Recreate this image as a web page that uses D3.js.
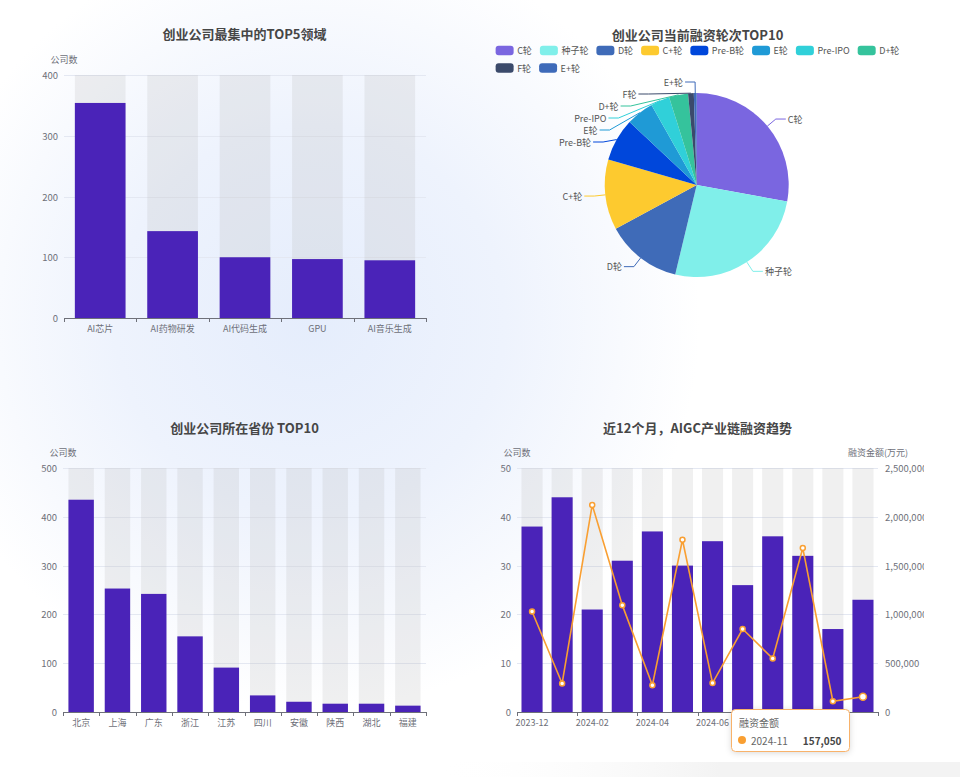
<!DOCTYPE html>
<html><head><meta charset="utf-8">
<script src="https://cdn.jsdelivr.net/npm/d3@7"></script>
<style>
body{margin:0;background:#fff;}
svg{display:block;font-family:"Noto Sans CJK SC","Noto Sans",sans-serif;}
</style>
</head><body>
<svg id="c" width="960" height="777"></svg>
<script>
// ---------- DATA ----------
const domainCats = ["AI芯片","AI药物研发","AI代码生成","GPU","AI音乐生成"];
const domainCounts = [354,143,100,97,95];
const domainTicks = [0,100,200,300,400];

const roundNames = ["C轮","种子轮","D轮","C+轮","Pre-B轮","E轮","Pre-IPO","D+轮","F轮","E+轮"];
const roundCounts = [167,155,80,74,45,29,20,20,6,3];
const roundColors = ["#7a66e0","#80efea","#3f6bb8","#fdca2f","#0047db","#1f9ad6","#30d0d9","#35c39c","#3b4a6b","#3e6ab9"];

const provinceCats = ["北京","上海","广东","浙江","江苏","四川","安徽","陕西","湖北","福建"];
const provinceCounts = [435,253,242,155,91,34,21,17,17,13];
const provinceTicks = [0,100,200,300,400,500];

const months = ["2023-12","2024-01","2024-02","2024-03","2024-04","2024-05","2024-06","2024-07","2024-08","2024-09","2024-10","2024-11"];
const monthCounts = [38,44,21,31,37,30,35,26,36,32,17,23];
const monthAmounts = [1030000,292000,2122000,1095000,275000,1765000,296000,850000,548000,1680000,110000,157050];
const countTicks = [0,10,20,30,40,50];
const amountTicks = [0,500000,1000000,1500000,2000000,2500000];

const titles = ["创业公司最集中的TOP5领域","创业公司当前融资轮次TOP10","创业公司所在省份 TOP10","近12个月，AIGC产业链融资趋势"];

// ---------- STYLE ----------
const BAR = "#4a23b8", BG = "rgba(180,180,180,0.2)", GRID = "#e4e8f2", AXIS = "#6E7079", LABEL = "#6E7079", TITLE = "#464646", LINE = "#f99f32";
const FS = 9;

const svg = d3.select("#c");
const defs = svg.append("defs");
const rg = defs.append("radialGradient").attr("id","glow").attr("gradientUnits","userSpaceOnUse")
  .attr("cx",310).attr("cy",320).attr("r",390);
rg.append("stop").attr("offset",0).attr("stop-color","#e5edfc");
rg.append("stop").attr("offset",0.5).attr("stop-color","#eef3fd");
rg.append("stop").attr("offset",0.8).attr("stop-color","#f8fafe");
rg.append("stop").attr("offset",1).attr("stop-color","#ffffff");
svg.append("rect").attr("width",960).attr("height",777).attr("fill","url(#glow)");
const lg = defs.append("linearGradient").attr("id","band").attr("x1",0).attr("x2",1).attr("y1",0).attr("y2",0);
lg.append("stop").attr("offset",0.45).attr("stop-color","#ffffff").attr("stop-opacity",0);
lg.append("stop").attr("offset",0.75).attr("stop-color","#f3f3f3");
lg.append("stop").attr("offset",1).attr("stop-color","#f3f3f3");
svg.append("rect").attr("x",0).attr("y",762).attr("width",960).attr("height",15).attr("fill","url(#band)");

const cp = defs.append("clipPath").attr("id","clipR");
cp.append("rect").attr("x",471).attr("y",0).attr("width",453).attr("height",777);

const sh = defs.append("filter").attr("id","shadow").attr("x","-20%").attr("y","-30%").attr("width","140%").attr("height","170%");
sh.append("feDropShadow").attr("dx",0).attr("dy",1).attr("stdDeviation",3).attr("flood-color","#000").attr("flood-opacity",0.15);

function title(text, cx, cy) {
  svg.append("text").attr("x",cx).attr("y",cy).attr("text-anchor","middle").attr("dominant-baseline","central")
    .attr("font-size",13).attr("font-weight","bold").attr("fill",TITLE).text(text);
}

function catAxis(g, x, cats, bottom, labelEvery) {
  const step = x.step();
  const [l, r] = x.range();
  g.append("line").attr("x1",l).attr("x2",r).attr("y1",bottom+0.5).attr("y2",bottom+0.5).attr("stroke",AXIS);
  for (let i = 0; i <= cats.length; i += labelEvery) {
    const tx = Math.round(l + i*step) + 0.5;
    g.append("line").attr("x1",tx).attr("x2",tx).attr("y1",bottom).attr("y2",bottom+4).attr("stroke",AXIS);
  }
  if ((cats.length % labelEvery) !== 0) {
    g.append("line").attr("x1",r+0.5).attr("x2",r+0.5).attr("y1",bottom).attr("y2",bottom+4).attr("stroke",AXIS);
  }
  cats.forEach((c,i) => {
    if (i % labelEvery !== 0) return;
    g.append("text").attr("x",x(c)+x.bandwidth()/2).attr("y",bottom+10.5).attr("text-anchor","middle")
      .attr("dominant-baseline","central").attr("font-size",FS).attr("fill",LABEL).text(c);
  });
}

function valueAxis(g, y, ticks, xPos, anchor, fmt, left, right) {
  ticks.forEach(t => {
    if (t !== 0) g.append("line").attr("x1",left).attr("x2",right).attr("y1",Math.round(y(t))+0.5).attr("y2",Math.round(y(t))+0.5).attr("stroke",GRID);
    g.append("text").attr("x",xPos).attr("y",y(t)).attr("text-anchor",anchor).attr("dominant-baseline","central")
      .attr("font-size",FS+0.5).attr("fill",LABEL).text(fmt(t));
  });
}

function barChart(o) {
  const g = svg.append("g");
  const x = d3.scaleBand().domain(o.cats).range([o.left,o.right]).paddingInner(0.3).paddingOuter(0.15);
  const y = d3.scaleLinear().domain([0, d3.max(o.ticks)]).range([o.bottom, o.top]);
  valueAxis(g, y, o.ticks, o.left-6, "end", d => d, o.left, o.right);
  g.append("text").attr("x",o.left).attr("y",o.top-16).attr("text-anchor","middle").attr("dominant-baseline","central")
    .attr("font-size",FS).attr("fill",LABEL).text("公司数");
  g.selectAll(".bg").data(o.cats).enter().append("rect")
    .attr("x",d=>x(d)).attr("width",x.bandwidth()).attr("y",o.top).attr("height",o.bottom-o.top).attr("fill",BG);
  g.selectAll(".bar").data(o.vals).enter().append("rect")
    .attr("x",(d,i)=>x(o.cats[i])).attr("width",x.bandwidth()).attr("y",d=>y(d)).attr("height",d=>o.bottom-y(d)).attr("fill",BAR);
  catAxis(g, x, o.cats, o.bottom, 1);
  return {g,x,y};
}

// ---------- Chart 1 ----------
title(titles[0], 244.5, 33.5);
barChart({cats:domainCats, vals:domainCounts, ticks:domainTicks, left:64, right:426, top:75, bottom:318});

// ---------- Chart 3 ----------
title(titles[2], 244.5, 427);
barChart({cats:provinceCats, vals:provinceCounts, ticks:provinceTicks, left:63, right:426, top:468, bottom:712});

// ---------- Chart 2 (pie) ----------
title(titles[1], 697.5, 34);
(function(){
  const g = svg.append("g").attr("clip-path","url(#clipR)");
  // legend
  const lgG = g.append("g");
  const items = [];
  roundNames.forEach((n,i) => {
    const it = lgG.append("g");
    it.append("rect").attr("width",18).attr("height",9.5).attr("rx",3).attr("fill",roundColors[i]);
    const t = it.append("text").attr("x",21.5).attr("y",4.75).attr("dominant-baseline","central")
      .attr("font-size",FS).attr("fill","#555").text(n);
    items.push({it, w: 21.5 + t.node().getComputedTextLength()});
  });
  const maxW = 420, gap = 8, rowH = 17.5;
  let rows = [[]], cur = 0;
  items.forEach(d => {
    const add = (rows[rows.length-1].length ? gap : 0) + d.w;
    if (cur + add > maxW && rows[rows.length-1].length) { rows.push([]); cur = 0; }
    const r = rows[rows.length-1];
    d.x = cur + (r.length ? gap : 0); cur = d.x + d.w; r.push(d); d.row = rows.length-1;
  });
  const totalW = d3.max(rows, r => { const l = r[r.length-1]; return l.x + l.w; });
  const lx0 = 697.5 - totalW/2;
  items.forEach(d => d.it.attr("transform", `translate(${lx0 + d.x},${45.75 + d.row*rowH})`));

  // pie
  const cx = 696.7, cy = 185, R = 92, L1 = 11, L2 = 10;
  const arcs = d3.pie().sort(null).value(d=>d)(roundCounts);
  const arc = d3.arc().innerRadius(0).outerRadius(R);
  g.selectAll(".slice").data(arcs).enter().append("path")
    .attr("transform",`translate(${cx},${cy})`).attr("d",arc).attr("fill",(d,i)=>roundColors[i]);
  const R2 = R + L1;
  const labs = arcs.map((a,i) => {
    const mid = (a.startAngle + a.endAngle)/2;
    return {i, right: Math.sin(mid) >= 0, ex: cx + Math.sin(mid)*R, ey: cy - Math.cos(mid)*R, y: cy - Math.cos(mid)*R2};
  });
  [true,false].forEach(side => {
    const s = labs.filter(d => d.right === side).sort((a,b) => a.y - b.y);
    for (let k = 1; k < s.length; k++) if (s[k].y - s[k-1].y < 12) s[k].y = s[k-1].y + 12;
  });
  labs.forEach(d => {
    const dy = d.y - cy;
    const dx = Math.sqrt(Math.max(0, R2*R2 - dy*dy));
    const bx = d.right ? cx + dx : cx - dx;
    const tx = d.right ? bx + L2 : bx - L2;
    g.append("polyline").attr("points",`${d.ex},${d.ey} ${bx},${d.y} ${tx},${d.y}`)
      .attr("fill","none").attr("stroke",roundColors[d.i]).attr("stroke-width",1);
    g.append("text").attr("x", d.right ? tx+2 : tx-2).attr("y",d.y).attr("text-anchor", d.right ? "start" : "end")
      .attr("dominant-baseline","central").attr("font-size",FS).attr("fill","#555").text(roundNames[d.i]);
  });
})();

// ---------- Chart 4 (bar + line) ----------
title(titles[3], 697.5, 427);
(function(){
  const g = svg.append("g").attr("clip-path","url(#clipR)");
  const left = 517, right = 878, top = 468, bottom = 712;
  const x = d3.scaleBand().domain(months).range([left,right]).paddingInner(0.3).paddingOuter(0.15);
  const y = d3.scaleLinear().domain([0,50]).range([bottom,top]);
  const y2 = d3.scaleLinear().domain([0,2500000]).range([bottom,top]);
  valueAxis(g, y, countTicks, left-6, "end", d => d, left, right);
  amountTicks.forEach(t => {
    g.append("text").attr("x",right+7).attr("y",y2(t)).attr("text-anchor","start").attr("dominant-baseline","central")
      .attr("font-size",FS+0.5).attr("fill",LABEL).text(d3.format(",")(t));
  });
  g.append("text").attr("x",left).attr("y",top-16).attr("text-anchor","middle").attr("dominant-baseline","central")
    .attr("font-size",FS).attr("fill",LABEL).text("公司数");
  g.append("text").attr("x",right).attr("y",top-16).attr("text-anchor","middle").attr("dominant-baseline","central")
    .attr("font-size",FS).attr("fill",LABEL).text("融资金额(万元)");
  g.selectAll(".bg").data(months).enter().append("rect")
    .attr("x",d=>x(d)).attr("width",x.bandwidth()).attr("y",top).attr("height",bottom-top).attr("fill",BG);
  g.selectAll(".bar").data(monthCounts).enter().append("rect")
    .attr("x",(d,i)=>x(months[i])).attr("width",x.bandwidth()).attr("y",d=>y(d)).attr("height",d=>bottom-y(d)).attr("fill",BAR);
  catAxis(g, x, months, bottom, 2);
  const cxm = i => x(months[i]) + x.bandwidth()/2;
  const line = d3.line().x((d,i)=>cxm(i)).y(d=>y2(d));
  g.append("path").attr("d",line(monthAmounts)).attr("fill","none").attr("stroke",LINE).attr("stroke-width",1.6);
  g.selectAll(".pt").data(monthAmounts).enter().append("circle")
    .attr("cx",(d,i)=>cxm(i)).attr("cy",d=>y2(d)).attr("r",(d,i)=> i===monthAmounts.length-1 ? 3.5 : 2.5)
    .attr("fill","#fff").attr("stroke",LINE).attr("stroke-width",1.5);

  // tooltip for hovered point (last month)
  const last = monthAmounts.length - 1;
  const tt = svg.append("g").attr("transform","translate(731,709)");
  tt.append("rect").attr("x",0.5).attr("y",0.5).attr("width",118).attr("height",42).attr("rx",4)
    .attr("fill","#fff").attr("stroke","#f8b26a").attr("stroke-width",1).attr("filter","url(#shadow)");
  tt.append("text").attr("x",8).attr("y",13).attr("dominant-baseline","central").attr("font-size",10).attr("fill","#666").text("融资金额");
  tt.append("circle").attr("cx",11).attr("cy",31).attr("r",4).attr("fill",LINE);
  tt.append("text").attr("x",20).attr("y",31).attr("dominant-baseline","central").attr("font-size",10).attr("fill","#666").text(months[last]);
  tt.append("text").attr("x",110.5).attr("y",31).attr("text-anchor","end").attr("dominant-baseline","central")
    .attr("font-size",10).attr("font-weight","bold").attr("fill","#464646").text(d3.format(",")(monthAmounts[last]));
})();
</script>
</body></html>
